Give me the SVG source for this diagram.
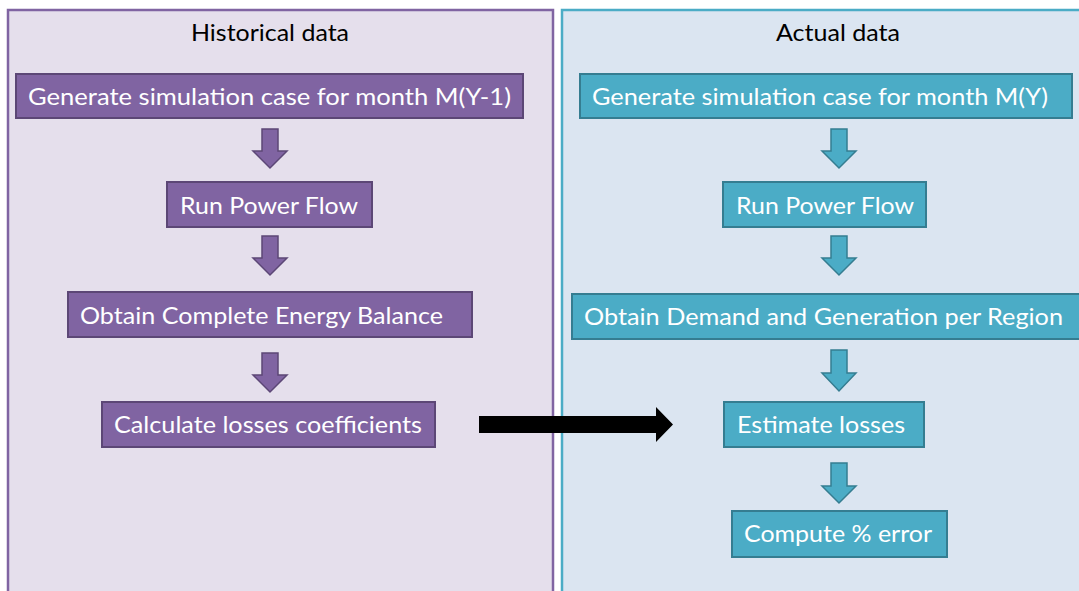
<svg xmlns="http://www.w3.org/2000/svg" width="1079" height="591" viewBox="0 0 1079 591">
<style>
.title{font-family:Lato,"Liberation Sans",sans-serif;font-size:23px;fill:#000;}
.lbl{font-family:Lato,"Liberation Sans",sans-serif;font-size:24px;fill:#FFFFFF;}
.pbox{fill:#8064A2;stroke:#5C4776;stroke-width:2;}
.tbox{fill:#4BACC6;stroke:#357D91;stroke-width:2;}
.parr{fill:#8064A2;stroke:#5C4776;stroke-width:1.5;stroke-linejoin:miter;}
.tarr{fill:#4BACC6;stroke:#357D91;stroke-width:1.5;stroke-linejoin:miter;}
</style>
<rect x="0" y="0" width="1079" height="591" fill="#FFFFFF"/>
<g id="panel-historical">
<rect x="8" y="10" width="545" height="590" fill="#E5DFEC" stroke="#8064A2" stroke-width="2.5"/>
<text class="title" x="270" y="41" text-anchor="middle" textLength="158" lengthAdjust="spacingAndGlyphs">Historical data</text>
</g>
<g id="panel-actual">
<rect x="562" y="10" width="530" height="590" fill="#DBE5F1" stroke="#4BACC6" stroke-width="2.5"/>
<text class="title" x="838" y="41" text-anchor="middle" textLength="124" lengthAdjust="spacingAndGlyphs">Actual data</text>
</g>
<g id="h1">
<rect class="pbox" x="16" y="74" width="507" height="44"/>
<text class="lbl" x="28" y="105" textLength="483" lengthAdjust="spacingAndGlyphs">Generate simulation case for month M(Y-1)</text>
</g>
<g id="h2">
<rect class="pbox" x="167" y="182" width="205" height="45"/>
<text class="lbl" x="180" y="214" textLength="178" lengthAdjust="spacingAndGlyphs">Run Power Flow</text>
</g>
<g id="h3">
<rect class="pbox" x="68" y="292" width="404" height="45"/>
<text class="lbl" x="80" y="324" textLength="363" lengthAdjust="spacingAndGlyphs">Obtain Complete Energy Balance</text>
</g>
<g id="h4">
<rect class="pbox" x="102" y="402" width="333" height="45"/>
<text class="lbl" x="114" y="433" textLength="308" lengthAdjust="spacingAndGlyphs">Calculate losses coefficients</text>
</g>
<g id="a1">
<rect class="tbox" x="580" y="74" width="492" height="44"/>
<text class="lbl" x="592" y="105" textLength="456" lengthAdjust="spacingAndGlyphs">Generate simulation case for month M(Y)</text>
</g>
<g id="a2">
<rect class="tbox" x="723" y="182" width="203" height="45"/>
<text class="lbl" x="736" y="214" textLength="178" lengthAdjust="spacingAndGlyphs">Run Power Flow</text>
</g>
<g id="a3">
<rect class="tbox" x="572" y="294" width="510" height="45"/>
<text class="lbl" x="584" y="325" textLength="479" lengthAdjust="spacingAndGlyphs">Obtain Demand and Generation per Region</text>
</g>
<g id="a4">
<rect class="tbox" x="724" y="402" width="200" height="45"/>
<text class="lbl" x="737" y="433" textLength="168" lengthAdjust="spacingAndGlyphs">Estimate losses</text>
</g>
<g id="a5">
<rect class="tbox" x="732" y="511" width="215" height="46"/>
<text class="lbl" x="744" y="542" textLength="188" lengthAdjust="spacingAndGlyphs">Compute % error</text>
</g>
<g id="connectors">
<path class="parr" d="M262,129 H278 V151 H287 L270,168 L253,151 H262 Z"/>
<path class="parr" d="M262,236 H278 V258 H287 L270,275 L253,258 H262 Z"/>
<path class="parr" d="M262,353 H278 V375 H287 L270,392 L253,375 H262 Z"/>
<path class="tarr" d="M831,129 H847 V151 H856 L839,168 L822,151 H831 Z"/>
<path class="tarr" d="M831,236 H847 V258 H856 L839,275 L822,258 H831 Z"/>
<path class="tarr" d="M831,350 H847 V373 H856 L839,391 L822,373 H831 Z"/>
<path class="tarr" d="M831,463 H847 V486 H856 L839,503 L822,486 H831 Z"/>
<path d="M479,416 H656 V407 L673,424.5 L656,442 V433 H479 Z" fill="#000000"/>
</g>
</svg>
